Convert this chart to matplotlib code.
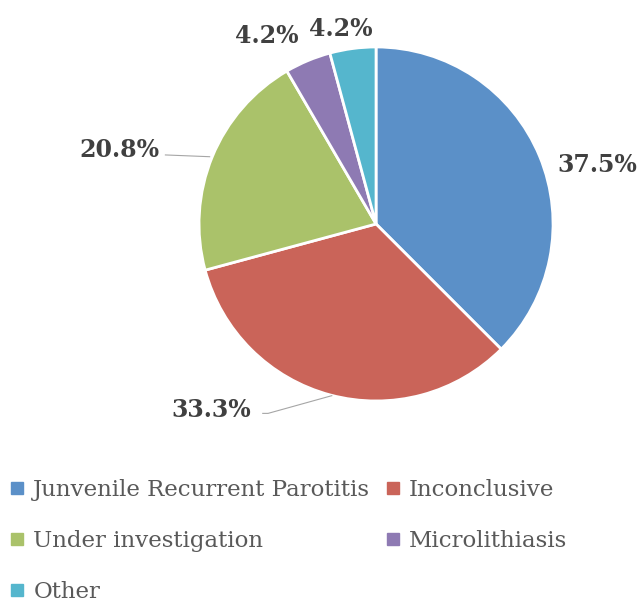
import matplotlib.pyplot as plt
from matplotlib.lines import Line2D

# data
categories = ["Junvenile Recurrent Parotitis", "Inconclusive", "Under investigation",
              "Microlithiasis", "Other"]
shares = [37.5, 33.3, 20.8, 4.2, 4.2]
pct_labels = ["37.5%", "33.3%", "20.8%", "4.2%", "4.2%"]
colors = ["#5B90C8", "#CA6459", "#AAC26A", "#8E7AB3", "#55B6CD"]

# label spots in pie-radius units (Excel style, outside end)
label_pos = [(1.25, 0.333), (-0.93, -1.05), (-1.45, 0.418), (-0.616, 1.062), (-0.198, 1.102)]

fig = plt.figure(figsize=(6.41, 6.06), dpi=100)
ax = fig.add_axes([0.3105, 0.3383, 0.5523, 0.5842])

wedges, _ = ax.pie(shares, colors=colors, startangle=90, counterclock=False,
                   wedgeprops=dict(edgecolor="white", linewidth=2))
ax.set_xlim(-1, 1)
ax.set_ylim(-1, 1)
ax.set_aspect("equal")

for (x, y), txt in zip(label_pos, pct_labels):
    ax.text(x, y, txt, ha="center", va="center", fontsize=17, fontweight="bold",
            color="#404040", family="DejaVu Serif", clip_on=False)

# leader lines for the two labels that sit away from their slices
ax.plot([-0.94, -1.19], [0.38, 0.39], color="#A6A6A6", lw=0.8, clip_on=False)
ax.plot([-0.25, -0.61, -0.64], [-0.97, -1.07, -1.07], color="#A6A6A6", lw=0.8, clip_on=False)

# legend, row-major order like the original
order = [0, 2, 4, 1, 3]
handles = [Line2D([], [], marker="s", ls="", markersize=8, color=colors[i]) for i in order]
names = [categories[i] for i in order]
fig.legend(handles, names, ncol=2, loc="upper left", bbox_to_anchor=(-0.016, 0.243),
           frameon=False, handlelength=0.6, handletextpad=0.4, columnspacing=0.7,
           labelspacing=1.25, prop={"family": "DejaVu Serif", "size": 16.5},
           labelcolor="#595959")

fig.savefig("out.png", dpi=100)
